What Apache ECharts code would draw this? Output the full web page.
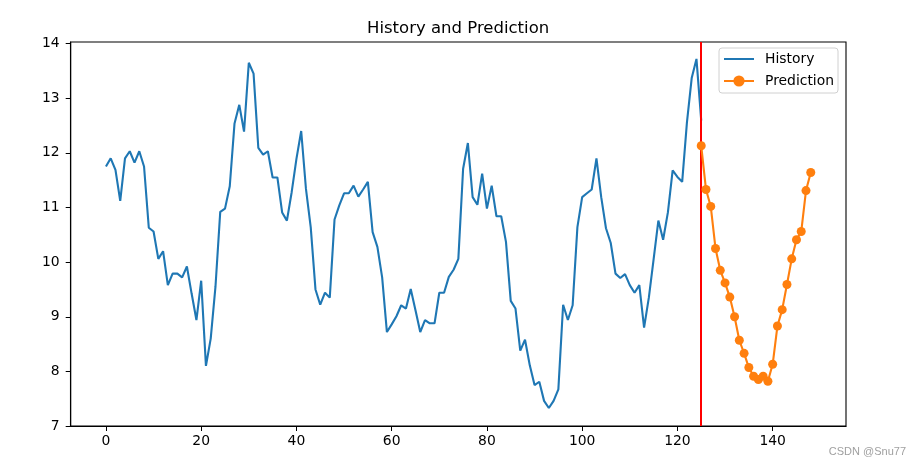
<!DOCTYPE html>
<html>
<head>
<meta charset="utf-8">
<script src="https://cdn.jsdelivr.net/npm/echarts@6/dist/echarts.min.js"></script>
<style>html,body{margin:0;padding:0;background:#fff}#c{width:920px;height:469px}</style>
</head>
<body>
<div id="c"></div>
<script>
var historyValues = [11.75,11.90,11.69,11.12,11.90,12.03,11.82,12.03,11.75,10.63,
10.56,10.06,10.20,9.58,9.79,9.79,9.72,9.92,9.42,8.94,
9.66,8.10,8.60,9.55,10.92,10.98,11.39,12.54,12.88,12.39,
13.65,13.45,12.09,11.97,12.03,11.55,11.55,10.91,10.76,11.28,
11.89,12.40,11.34,10.64,9.50,9.22,9.44,9.35,10.78,11.04,
11.26,11.26,11.40,11.20,11.33,11.47,10.55,10.28,9.72,8.72,
8.86,9.01,9.21,9.15,9.51,9.12,8.72,8.94,8.88,8.88,
9.44,9.44,9.73,9.86,10.06,11.71,12.18,11.19,11.05,11.62,
10.98,11.40,10.84,10.84,10.37,9.29,9.15,8.38,8.58,8.11,
7.75,7.81,7.46,7.33,7.46,7.67,9.22,8.94,9.21,10.64,
11.19,11.26,11.33,11.90,11.19,10.62,10.35,9.79,9.71,9.78,
9.58,9.44,9.58,8.80,9.35,10.05,10.76,10.41,10.91,11.68,
11.56,11.47,12.56,13.37,13.72,12.59];
var historyStart = 0;
var predictionValues = [12.13,11.33,11.02,10.25,9.85,9.62,9.36,9.00,8.57,8.33,
8.07,7.91,7.85,7.91,7.82,8.13,8.83,9.13,9.59,10.06,
10.41,10.56,11.31,11.64];
var predictionStart = 125;
var splitX = 125;
var xTicks = [0,20,40,60,80,100,120,140];
var yTicks = [7,8,9,10,11,12,13,14];
var seriesNames = ['History','Prediction'];
var titleText = 'History and Prediction';
var watermark = 'CSDN @Snu77';

var histData = historyValues.map(function(v,i){return [historyStart+i, v];});
var predData = predictionValues.map(function(v,i){return [predictionStart+i, v];});

var font = 'DejaVu Sans';
var chart = echarts.init(document.getElementById('c'), null, {renderer:'canvas'});
chart.setOption({
  animation: false,
  backgroundColor: '#fff',
  title: {text: titleText, left: 362, top: 15,
    textStyle: {fontFamily: font, fontSize: 16.5, fontWeight: 'normal', color: '#000'}},
  grid: {left: 70.7, right: 74, top: 42, bottom: 43, containLabel: false,
    show: true, borderColor: '#000', borderWidth: 1.1, backgroundColor: 'transparent'},
  legend: {
    orient: 'vertical', left: 719, top: 48,
    padding: [4, 4, 5, 4], itemGap: 8, itemWidth: 30, itemHeight: 14,
    borderColor: '#d0d0d0', borderWidth: 1, borderRadius: 3, backgroundColor: 'rgba(255,255,255,0.8)',
    textStyle: {fontFamily: font, fontSize: 13.9, color: '#000', padding: [0,0,0,6]},
    data: [{name: seriesNames[0], itemStyle: {opacity: 0}}, {name: seriesNames[1]}]
  },
  xAxis: {
    type: 'value', min: -7.4, max: 155.4,
    axisLine: {show: true, onZero: false, lineStyle: {color: '#000', width: 1.1}},
    axisTick: {show: true, length: 5, lineStyle: {color: '#000', width: 1}, customValues: xTicks},
    axisLabel: {fontFamily: font, fontSize: 13.9, color: '#000', margin: 8, customValues: xTicks},
    splitLine: {show: false}
  },
  yAxis: {
    type: 'value', min: 7, max: 14.03,
    axisLine: {show: true, onZero: false, lineStyle: {color: '#000', width: 1.1}},
    axisTick: {show: true, length: 5, lineStyle: {color: '#000', width: 1}, customValues: yTicks},
    axisLabel: {fontFamily: font, fontSize: 13.9, color: '#000', margin: 11, customValues: yTicks},
    splitLine: {show: false}
  },
  series: [
    {name: seriesNames[0], type: 'line', data: histData, symbol: 'none', showSymbol: false,
      lineStyle: {color: '#1f77b4', width: 2.1}, itemStyle: {color: '#1f77b4'}, z: 2,
      markLine: {silent: true, symbol: ['none','none'], label: {show: false},
        lineStyle: {color: '#ff0000', width: 2, type: 'solid'},
        data: [{xAxis: splitX}], z: 3}
    },
    {name: seriesNames[1], type: 'line', data: predData, symbol: 'circle', symbolSize: 9,
      lineStyle: {color: '#ff7f0e', width: 2.1}, itemStyle: {color: '#ff7f0e'}, z: 4}
  ],
  graphic: [{type: 'text', right: 14, top: 446,
    style: {text: watermark, fontFamily: 'Liberation Sans', fontSize: 11, fill: '#a0a0a0'}}]
});
</script>
</body>
</html>
